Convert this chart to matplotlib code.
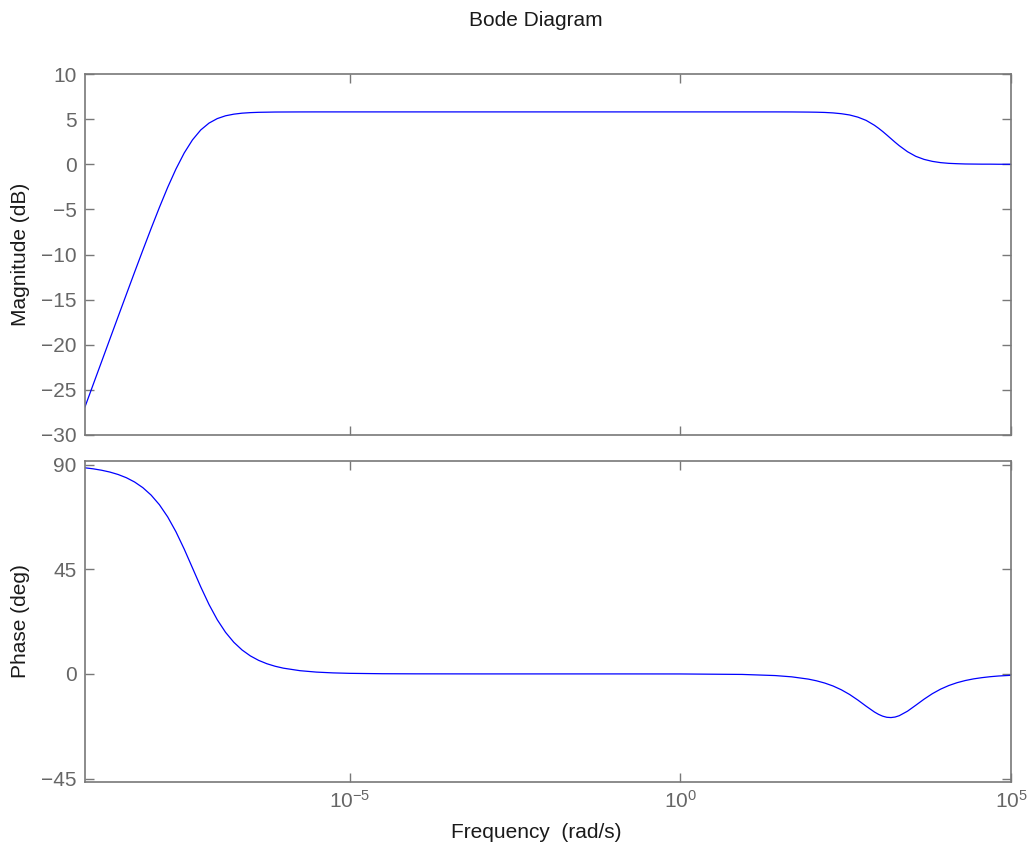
import numpy as np
import matplotlib
matplotlib.use("Agg")
import matplotlib.pyplot as plt
from matplotlib.ticker import FixedLocator, LogFormatterMathtext, NullLocator

plt.rcParams['font.family'] = ['Liberation Sans', 'DejaVu Sans']
plt.rcParams['mathtext.fontset'] = 'custom'
plt.rcParams['mathtext.rm'] = 'Liberation Sans'
plt.rcParams['mathtext.default'] = 'regular'

# log10 of frequency (rad/s) at the sampled points
log_freq = [-9.0, -8.875, -8.75, -8.625, -8.5, -8.375, -8.25, -8.125, -8.0, -7.875,
            -7.75, -7.625, -7.5, -7.375, -7.25, -7.125, -7.0, -6.875, -6.75, -6.625,
            -6.5, -6.375, -6.25, -6.125, -6.0, -5.75, -5.5, -5.25, -5.0, -4.5,
            -4.0, -3.0, -2.0, -1.0, 0.0, 0.935, 1.435, 1.685, 1.935, 2.06,
            2.185, 2.31, 2.435, 2.56, 2.685, 2.81, 2.935, 2.9975, 3.06, 3.1225,
            3.185, 3.2475, 3.31, 3.435, 3.56, 3.685, 3.81, 3.935, 4.06, 4.185,
            4.31, 4.435, 4.56, 4.685, 4.81, 5.0]

magnitude_db = [-26.88, -24.38, -21.89, -19.39, -16.90, -14.42, -11.95, -9.51, -7.11, -4.78,
                -2.56, -0.53, 1.25, 2.70, 3.80, 4.56, 5.06, 5.37, 5.55, 5.66,
                5.72, 5.755, 5.77, 5.786, 5.79, 5.797, 5.80, 5.80, 5.80, 5.80,
                5.80, 5.80, 5.80, 5.80, 5.80, 5.80, 5.80, 5.795, 5.78, 5.766,
                5.74, 5.689, 5.60, 5.46, 5.22, 4.86, 4.32, 3.99, 3.63, 3.24,
                2.84, 2.44, 2.06, 1.39, 0.88, 0.54, 0.32, 0.18, 0.10, 0.06,
                0.03, 0.02, 0.01, 0.01, 0.00, 0.00]

phase_deg = [88.67, 88.23, 87.63, 86.85, 85.80, 84.41, 82.56, 80.12, 76.92, 72.79,
             67.56, 61.16, 53.70, 45.59, 37.44, 29.86, 23.29, 17.89, 13.61, 10.29,
             7.75, 5.83, 4.38, 3.29, 2.47, 1.39, 0.78, 0.44, 0.25, 0.08,
             0.03, 0.00, 0.00, 0.00, -0.02, -0.22, -0.71, -1.26, -2.23, -2.97,
             -3.94, -5.20, -6.83, -8.85, -11.26, -13.89, -16.38, -17.40, -18.18, -18.66,
             -18.78, -18.55, -17.98, -16.04, -13.49, -10.88, -8.52, -6.56, -4.99, -3.77,
             -2.84, -2.13, -1.61, -1.20, -0.90, -0.60]

mag_ticks = [-30, -25, -20, -15, -10, -5, 0, 5, 10]
phase_ticks = [-45, 0, 45, 90]
freq_ticks = [1e-5, 1e0, 1e5]

freq = [10.0 ** v for v in log_freq]

W, H = 1031, 848
fig = plt.figure(figsize=(W / 100, H / 100), dpi=100)

def box(l, t, r, b):
    return [l / W, 1 - b / H, (r - l) / W, (b - t) / H]

ax1 = fig.add_axes(box(85, 74, 1011, 435))
ax2 = fig.add_axes(box(85, 461, 1011, 782))

gray_spine = (0.47, 0.47, 0.47)
gray_text = (0.40, 0.40, 0.40)

for ax in (ax1, ax2):
    ax.set_xscale('log')
    ax.set_xlim(1e-9, 1e5)
    ax.xaxis.set_major_locator(FixedLocator(freq_ticks))
    ax.xaxis.set_minor_locator(NullLocator())
    ax.xaxis.set_major_formatter(LogFormatterMathtext())
    for s in ax.spines.values():
        s.set_color(gray_spine)
        s.set_linewidth(1.2)
    ax.tick_params(which='both', direction='in', top=True, right=True,
                   length=6.5, width=1.0, color=gray_spine,
                   labelsize=15, labelcolor=gray_text, pad=6)

ax1.plot(freq, magnitude_db, color=(0, 0, 1), lw=0.9)
ax1.set_ylim(-30, 10)
ax1.set_yticks(mag_ticks)
ax1.tick_params(labelbottom=False)
ax1.set_ylabel('Magnitude (dB)', fontsize=15, color='#1a1a1a', labelpad=8)

ax2.plot(freq, phase_deg, color=(0, 0, 1), lw=0.9)
ax2.set_ylim(-46.5, 91.6)
ax2.set_yticks(phase_ticks)
ax2.set_ylabel('Phase (deg)', fontsize=15, color='#1a1a1a', labelpad=8)

fig.text(536 / W, 1 - 20 / H, 'Bode Diagram', ha='center', va='center',
         fontsize=15, color='#1a1a1a')
fig.text(536 / W, 1 - 832 / H, 'Frequency  (rad/s)', ha='center', va='center',
         fontsize=15, color='#1a1a1a')

fig.savefig('out.png', dpi=100)
